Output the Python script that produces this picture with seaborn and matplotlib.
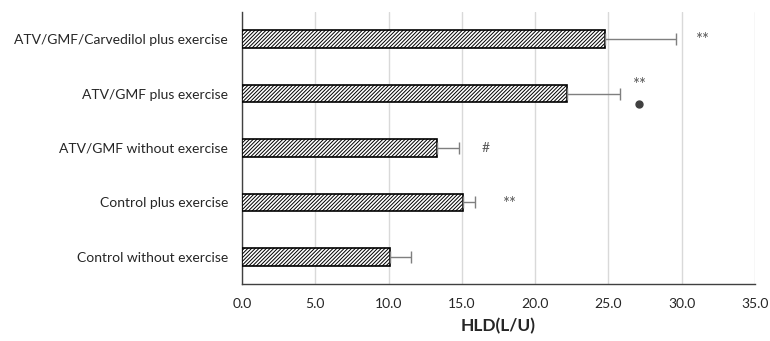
import matplotlib
matplotlib.use("Agg")
import matplotlib.pyplot as plt
import seaborn as sns
import pandas as pd

# data (top to bottom as in the chart)
groups = ["ATV/GMF/Carvedilol plus exercise", "ATV/GMF plus exercise",
          "ATV/GMF without exercise", "Control plus exercise",
          "Control without exercise"]
hld = [24.8, 22.2, 13.3, 15.1, 10.1]
hld_err = [4.8, 3.6, 1.5, 0.8, 1.4]
marks = ["**", "**", "#", "**", ""]
mark_x = [31.4, 27.1, 16.6, 18.2, 0]
xticks = [0, 5, 10, 15, 20, 25, 30, 35]

df = pd.DataFrame({"group": groups, "hld": hld})

sns.set_style("white")
plt.rcParams["font.family"] = ["Lato", "DejaVu Sans"]
plt.rcParams["hatch.linewidth"] = 0.7

fig = plt.figure(figsize=(7.7, 3.41), dpi=100)
ax = fig.add_axes([0.3143, 0.167, 0.6662, 0.798])

sns.barplot(data=df, x="hld", y="group", orient="h", color="white",
            edgecolor="black", linewidth=1.2, width=0.32, ax=ax, zorder=3)
for p in ax.patches:
    p.set_hatch("/////////")

ypos = list(range(len(groups)))
ax.errorbar(hld, ypos, xerr=[[0] * len(hld), hld_err], fmt="none",
            ecolor="#7f7f7f", elinewidth=1.0, capsize=4, capthick=1.0, zorder=4)

# significance marks
for i, (m, x) in enumerate(zip(marks, mark_x)):
    if not m:
        continue
    if m == "**":
        dy = -0.16 if i == 1 else 0.02
        ax.text(x, i + dy, m, ha="center", va="center", fontsize=12, color="#595959")
    else:
        ax.text(x, i, m, ha="center", va="center", fontsize=10, color="#595959")
ax.plot([27.1], [1.2], "o", color="#404040", markersize=5)

ax.set_xlim(0, 35)
ax.set_ylim(4.5, -0.5)
ax.set_xticks(xticks)
ax.set_xticklabels([f"{t:.1f}" for t in xticks], fontsize=10)
ax.tick_params(axis="y", labelsize=10, length=0, pad=10)
ax.tick_params(axis="x", length=0, pad=10)
ax.set_ylabel("")
ax.set_xlabel("HLD(L/U)", fontsize=12.5, fontweight="bold", labelpad=6)

ax.grid(axis="x", color="#d9d9d9", linewidth=1.0, zorder=0)
ax.set_axisbelow(True)
for s in ["top", "right"]:
    ax.spines[s].set_visible(False)
for s in ["left", "bottom"]:
    ax.spines[s].set_color("#404040")
    ax.spines[s].set_linewidth(1.0)

fig.savefig("out.png", dpi=100)
